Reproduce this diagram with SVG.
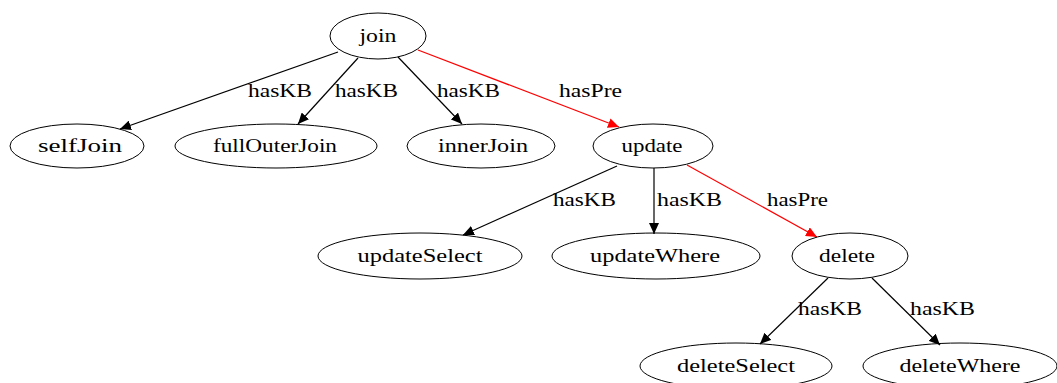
<svg xmlns="http://www.w3.org/2000/svg" width="1057" height="383" viewBox="0 0 1057 383">
<style>
.node ellipse{fill:none;stroke:#000;stroke-width:1}
text{font-family:'Liberation Serif','Times New Roman','DejaVu Serif',serif;font-size:18px;fill:#000}
.node text{text-anchor:middle}
.e{stroke:#000;stroke-width:1.2;fill:none;marker-end:url(#ab)}
.r{stroke:#ff0000;stroke-width:1.2;fill:none;marker-end:url(#ar)}
</style>
<defs>
<marker id="ab" markerWidth="12" markerHeight="10" refX="11" refY="5" orient="auto" markerUnits="userSpaceOnUse"><path d="M0,0 L11,5 L0,10 Z" fill="#000"/></marker>
<marker id="ar" markerWidth="12" markerHeight="10" refX="11" refY="5" orient="auto" markerUnits="userSpaceOnUse"><path d="M0,0 L11,5 L0,10 Z" fill="#ff0000"/></marker>
</defs>
<rect width="1057" height="383" fill="#fff"/>
<g id="edges">
<line class="e" x1="338" y1="52" x2="120" y2="129"/>
<line class="e" x1="358" y1="58" x2="298" y2="124"/>
<line class="e" x1="398" y1="57" x2="462" y2="124"/>
<line class="r" x1="418" y1="50" x2="619" y2="127"/>
<line class="e" x1="617" y1="166" x2="463" y2="235"/>
<line class="e" x1="654" y1="168" x2="654" y2="234"/>
<line class="r" x1="687" y1="165" x2="817" y2="237"/>
<line class="e" x1="828" y1="278" x2="760" y2="344"/>
<line class="e" x1="872" y1="278" x2="940" y2="345"/>
<text x="248" y="97" textLength="64" lengthAdjust="spacingAndGlyphs">hasKB</text>
<text x="335" y="97" textLength="63" lengthAdjust="spacingAndGlyphs">hasKB</text>
<text x="437" y="97" textLength="63" lengthAdjust="spacingAndGlyphs">hasKB</text>
<text x="559" y="97" textLength="63" lengthAdjust="spacingAndGlyphs">hasPre</text>
<text x="553" y="206" textLength="63" lengthAdjust="spacingAndGlyphs">hasKB</text>
<text x="657" y="206" textLength="65" lengthAdjust="spacingAndGlyphs">hasKB</text>
<text x="767" y="206" textLength="61" lengthAdjust="spacingAndGlyphs">hasPre</text>
<text x="798" y="315" textLength="64" lengthAdjust="spacingAndGlyphs">hasKB</text>
<text x="910" y="315" textLength="65" lengthAdjust="spacingAndGlyphs">hasKB</text>
</g>
<g id="join" class="node"><ellipse cx="378" cy="36" rx="48" ry="23"/><text x="378" y="42" textLength="37" lengthAdjust="spacingAndGlyphs">join</text></g>
<g id="selfJoin" class="node"><ellipse cx="77" cy="146" rx="67" ry="22"/><text x="80" y="152" textLength="84" lengthAdjust="spacingAndGlyphs">selfJoin</text></g>
<g id="fullOuterJoin" class="node"><ellipse cx="276" cy="146" rx="101" ry="22"/><text x="275" y="152" textLength="124" lengthAdjust="spacingAndGlyphs">fullOuterJoin</text></g>
<g id="innerJoin" class="node"><ellipse cx="481" cy="146" rx="74" ry="22"/><text x="483" y="152" textLength="90" lengthAdjust="spacingAndGlyphs">innerJoin</text></g>
<g id="update" class="node"><ellipse cx="653" cy="146" rx="60" ry="22"/><text x="652" y="152" textLength="61" lengthAdjust="spacingAndGlyphs">update</text></g>
<g id="updateSelect" class="node"><ellipse cx="420" cy="256" rx="102" ry="23"/><text x="420" y="262" textLength="125" lengthAdjust="spacingAndGlyphs">updateSelect</text></g>
<g id="updateWhere" class="node"><ellipse cx="656" cy="256" rx="104" ry="23"/><text x="655" y="262" textLength="130" lengthAdjust="spacingAndGlyphs">updateWhere</text></g>
<g id="delete" class="node"><ellipse cx="850" cy="256" rx="58" ry="23"/><text x="847" y="262" textLength="56" lengthAdjust="spacingAndGlyphs">delete</text></g>
<g id="deleteSelect" class="node"><ellipse cx="736" cy="366" rx="96" ry="23"/><text x="736" y="372" textLength="118" lengthAdjust="spacingAndGlyphs">deleteSelect</text></g>
<g id="deleteWhere" class="node"><ellipse cx="960" cy="366" rx="97" ry="23"/><text x="960" y="372" textLength="121" lengthAdjust="spacingAndGlyphs">deleteWhere</text></g>
</svg>
